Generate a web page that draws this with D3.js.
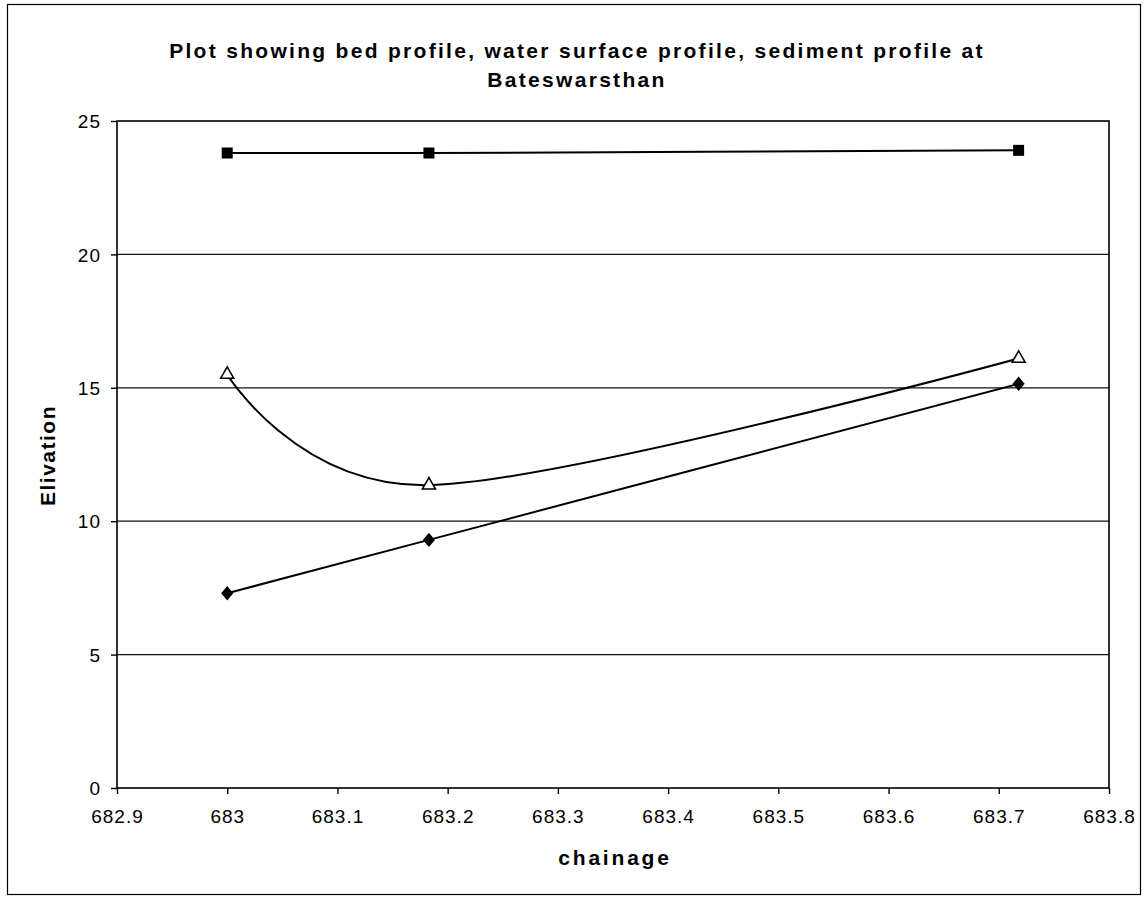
<!DOCTYPE html>
<html>
<head>
<meta charset="utf-8">
<script src="https://cdn.jsdelivr.net/npm/d3@7"></script>
<style>
  body { margin: 0; background: #fff; }
  svg text { font-family: Arial, "Liberation Sans", sans-serif; fill: #000; }
</style>
</head>
<body>
<div id="root"></div>
<script>
'use strict';

// chainage of the three sections
var chainage = [683, 683.183, 683.718];
// series values
var waterSurface = [23.8, 23.8, 23.9];   // squares
var sediment = [15.5, 11.35, 16.1];      // hollow triangles
var bed = [7.3, 9.3, 15.15];             // diamonds

var xTicks = [682.9, 683, 683.1, 683.2, 683.3, 683.4, 683.5, 683.6, 683.7, 683.8];
var yTicks = [0, 5, 10, 15, 20, 25];

var W = 1146, H = 898;
var plotLeft = 117, plotRight = 1109, plotTop = 121, plotBottom = 788;

var svg = d3.select('#root').append('svg')
  .attr('width', W)
  .attr('height', H);

// outer chart border
svg.append('rect')
  .attr('x', 7.5).attr('y', 4.5)
  .attr('width', 1133).attr('height', 890)
  .attr('fill', 'none')
  .attr('stroke', '#000')
  .attr('stroke-width', 1.2);

var x = d3.scaleLinear().domain([682.9, 683.8]).range([plotLeft, plotRight]);
var y = d3.scaleLinear().domain([0, 25]).range([plotBottom, plotTop]);

// gridlines
svg.append('g').selectAll('line')
  .data(yTicks.slice(1, -1))
  .enter().append('line')
  .attr('x1', plotLeft).attr('x2', plotRight)
  .attr('y1', function (d) { return y(d); })
  .attr('y2', function (d) { return y(d); })
  .attr('stroke', '#111')
  .attr('stroke-width', 1.2);

// plot border
svg.append('rect')
  .attr('x', plotLeft).attr('y', plotTop)
  .attr('width', plotRight - plotLeft).attr('height', plotBottom - plotTop)
  .attr('fill', 'none')
  .attr('stroke', '#000')
  .attr('stroke-width', 1.6);

// axes
var xAxis = svg.append('g')
  .attr('transform', 'translate(0,' + plotBottom + ')')
  .call(d3.axisBottom(x).tickValues(xTicks).tickSize(6).tickPadding(16).tickFormat(function (d) { return String(d); }));

var yAxis = svg.append('g')
  .attr('transform', 'translate(' + plotLeft + ',0)')
  .call(d3.axisLeft(y).tickValues(yTicks).tickSize(6).tickPadding(10).tickFormat(d3.format('d')));

[xAxis, yAxis].forEach(function (g) {
  g.select('.domain').remove();
  g.selectAll('line').attr('stroke', '#000').attr('stroke-width', 1.4);
  g.selectAll('text').attr('font-size', 19).attr('fill', '#000')
    .attr('letter-spacing', 1)
    .style('font-family', 'Arial, "Liberation Sans", sans-serif');
});
yAxis.selectAll('text').attr('dy', '0.35em');

// lines (smoothed like the spreadsheet chart)
function pts(vals) {
  return vals.map(function (v, i) { return [chainage[i], v]; });
}
var smooth = d3.line()
  .x(function (d) { return x(d[0]); })
  .y(function (d) { return y(d[1]); })
  .curve(d3.curveCatmullRom.alpha(0));

[waterSurface, sediment, bed].forEach(function (s) {
  svg.append('path')
    .attr('d', smooth(pts(s)))
    .attr('fill', 'none')
    .attr('stroke', '#000')
    .attr('stroke-width', 2);
});

// markers
svg.append('g').selectAll('path')
  .data(pts(waterSurface))
  .enter().append('path')
  .attr('d', d3.symbol().type(d3.symbolSquare).size(121))
  .attr('transform', function (d) { return 'translate(' + x(d[0]) + ',' + y(d[1]) + ')'; })
  .attr('fill', '#000');

svg.append('g').selectAll('path')
  .data(pts(bed))
  .enter().append('path')
  .attr('d', d3.symbol().type(d3.symbolDiamond).size(60))
  .attr('transform', function (d) { return 'translate(' + x(d[0]) + ',' + y(d[1]) + ') scale(1.45,1)'; })
  .attr('fill', '#000');

svg.append('g').selectAll('path')
  .data(pts(sediment))
  .enter().append('path')
  .attr('d', d3.symbol().type(d3.symbolTriangle).size(73))
  .attr('transform', function (d) { return 'translate(' + x(d[0]) + ',' + y(d[1]) + ')'; })
  .attr('fill', '#fff')
  .attr('stroke', '#000')
  .attr('stroke-width', 1.6);

// title
var title = svg.append('text')
  .attr('text-anchor', 'middle')
  .attr('font-size', 21)
  .attr('font-weight', 'bold')
  .attr('letter-spacing', 2.3);
title.append('tspan').attr('x', 577).attr('y', 58)
  .text('Plot showing bed profile, water surface profile, sediment profile at');
title.append('tspan').attr('x', 577).attr('y', 87)
  .text('Bateswarsthan');

// axis titles
svg.append('text')
  .attr('x', (plotLeft + plotRight) / 2 + 2).attr('y', 865)
  .attr('text-anchor', 'middle')
  .attr('font-size', 21)
  .attr('font-weight', 'bold')
  .attr('letter-spacing', 2.8)
  .text('chainage');

svg.append('text')
  .attr('transform', 'translate(55,' + ((plotTop + plotBottom) / 2 + 1) + ') rotate(-90)')
  .attr('text-anchor', 'middle')
  .attr('font-size', 21)
  .attr('font-weight', 'bold')
  .attr('letter-spacing', 1.5)
  .text('Elivation');
</script>
</body>
</html>
